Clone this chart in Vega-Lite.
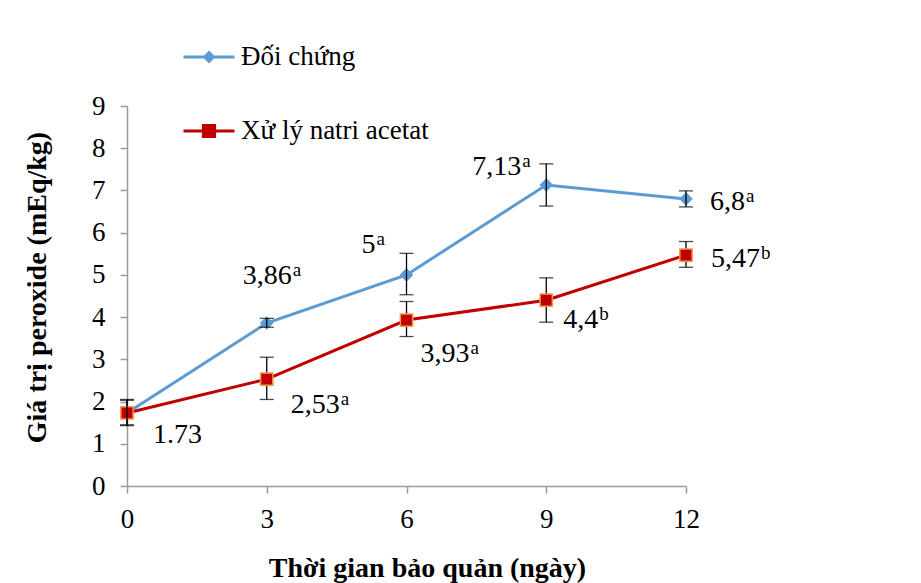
{
  "$schema": "https://vega.github.io/schema/vega-lite/v6.json",
  "width": 559,
  "height": 380,
  "autosize": {"type": "none"},
  "padding": {"left": 127, "top": 106, "right": 235, "bottom": 97},
  "background": "white",
  "config": {"view": {"stroke": null}, "font": "Liberation Serif"},
  "data": {
    "values": [
      {"id": "c0", "day": 0, "series": "Đối chứng", "value": 1.73, "lo": 1.43, "hi": 2.03, "label": "", "sup": ""},
      {"id": "c3", "day": 3, "series": "Đối chứng", "value": 3.86, "lo": 3.76, "hi": 3.97, "label": "3,86", "sup": "a"},
      {"id": "c6", "day": 6, "series": "Đối chứng", "value": 5.0, "lo": 4.53, "hi": 5.51, "label": "5", "sup": "a"},
      {"id": "c9", "day": 9, "series": "Đối chứng", "value": 7.13, "lo": 6.63, "hi": 7.63, "label": "7,13", "sup": "a"},
      {"id": "c12", "day": 12, "series": "Đối chứng", "value": 6.8, "lo": 6.61, "hi": 6.99, "label": "6,8", "sup": "a"},
      {"id": "t0", "day": 0, "series": "Xử lý natri acetat", "value": 1.73, "lo": 1.45, "hi": 2.05, "label": "1.73", "sup": ""},
      {"id": "t3", "day": 3, "series": "Xử lý natri acetat", "value": 2.53, "lo": 2.05, "hi": 3.05, "label": "2,53", "sup": "a"},
      {"id": "t6", "day": 6, "series": "Xử lý natri acetat", "value": 3.93, "lo": 3.54, "hi": 4.37, "label": "3,93", "sup": "a"},
      {"id": "t9", "day": 9, "series": "Xử lý natri acetat", "value": 4.4, "lo": 3.88, "hi": 4.93, "label": "4,4", "sup": "b"},
      {"id": "t12", "day": 12, "series": "Xử lý natri acetat", "value": 5.47, "lo": 5.18, "hi": 5.79, "label": "5,47", "sup": "b"}
    ]
  },
  "encoding": {
    "x": {
      "field": "day",
      "type": "quantitative",
      "scale": {"domain": [0, 12], "nice": false, "zero": false},
      "axis": {
        "values": [0, 3, 6, 9, 12],
        "grid": false,
        "title": "Thời gian bảo quản (ngày)",
        "titleFont": "Liberation Serif",
        "titleFontSize": 28,
        "titleFontWeight": "bold",
        "titleColor": "black",
        "titleX": 300,
        "titleY": 90,
        "titleBaseline": "alphabetic",
        "labelFont": "Liberation Serif",
        "labelFontSize": 27,
        "labelColor": "black",
        "labelPadding": 13,
        "labelFlush": false,
        "labelOverlap": false,
        "tickSize": 7,
        "tickWidth": 1.5,
        "tickColor": "#9a9a9a",
        "domainColor": "#9a9a9a",
        "domainWidth": 1.5
      }
    },
    "y": {
      "field": "value",
      "type": "quantitative",
      "scale": {"domain": [0, 9], "nice": false},
      "axis": {
        "values": [0, 1, 2, 3, 4, 5, 6, 7, 8, 9],
        "grid": false,
        "title": "Giá trị peroxide (mEq/kg)",
        "titleFont": "Liberation Serif",
        "titleFontSize": 28,
        "titleFontWeight": "bold",
        "titleColor": "black",
        "titleX": -90,
        "titleY": 181,
        "titleAngle": -90,
        "titleBaseline": "middle",
        "titleAlign": "center",
        "labelFont": "Liberation Serif",
        "labelFontSize": 27,
        "labelColor": "black",
        "labelPadding": 15,
        "labelFlush": false,
        "labelOverlap": false,
        "tickSize": 7,
        "tickWidth": 1.5,
        "tickColor": "#9a9a9a",
        "domainColor": "#9a9a9a",
        "domainWidth": 1.5
      }
    }
  },
  "layer": [
    {
      "mark": {"type": "line", "strokeWidth": 3},
      "encoding": {
        "color": {
          "field": "series",
          "type": "nominal",
          "scale": {"domain": ["Đối chứng", "Xử lý natri acetat"], "range": ["#5B9BD5", "#C00000"]},
          "legend": {
            "orient": "none",
            "legendX": 55,
            "legendY": -76,
            "title": null,
            "direction": "vertical",
            "padding": 0,
            "symbolType": "M-1,0L1,0",
            "symbolSize": 2601,
            "symbolStrokeWidth": 3,
            "labelFont": "Liberation Serif",
            "labelFontSize": 27,
            "labelColor": "black",
            "labelOffset": 5,
            "labelLimit": 0,
            "rowPadding": 34,
            "encode": {
              "symbols": {
                "update": {
                  "shape": {"signal": "datum.value === 'Đối chứng' ? 'M-1,0L1,0M-0.17,0L0,-0.17L0.17,0L0,0.17Z' : 'M-1,0L1,0M-0.22,-0.22L0.22,-0.22L0.22,0.22L-0.22,0.22Z'"},
                  "fill": {"scale": "color", "field": "value"},
                  "stroke": {"scale": "color", "field": "value"},
                  "strokeWidth": {"value": 3}
                }
              }
            }
          }
        }
      }
    },
    {
      "transform": [{"filter": "datum.series === 'Xử lý natri acetat'"}],
      "mark": {"type": "errorbar", "color": "black", "thickness": 1.3, "ticks": {"size": 14, "color": "black"}},
      "encoding": {
        "y": {"field": "lo", "type": "quantitative"},
        "y2": {"field": "hi"}
      }
    },
    {
      "transform": [{"filter": "datum.series === 'Đối chứng'"}],
      "mark": {"type": "point", "shape": "diamond", "filled": true, "fill": "#5B9BD5", "stroke": "#5B9BD5", "strokeWidth": 1, "opacity": 1, "size": 160},
      "encoding": {}
    },
    {
      "transform": [{"filter": "datum.series === 'Xử lý natri acetat'"}],
      "mark": {"type": "point", "shape": "square", "filled": true, "fill": "#C00000", "stroke": "#F79646", "strokeWidth": 1.5, "opacity": 1, "size": 150},
      "encoding": {}
    },
    {
      "transform": [{"filter": "datum.series === 'Đối chứng'"}],
      "mark": {"type": "errorbar", "color": "black", "thickness": 1.3, "ticks": {"size": 14, "color": "black"}},
      "encoding": {
        "y": {"field": "lo", "type": "quantitative"},
        "y2": {"field": "hi"}
      }
    },
    {
      "transform": [{"filter": "datum.label !== ''"}],
      "mark": {
        "type": "text",
        "font": "Liberation Serif",
        "fontSize": 28,
        "align": "right",
        "baseline": "alphabetic",
        "color": "black",
        "dx": {"expr": "{c3: 25, c6: -31, c9: -25, c12: 59, t0: 75, t3: 73, t6: 63, t9: 52, t12: 74}[datum.id]"},
        "dy": {"expr": "{c3: -39, c6: -22, c9: -10, c12: 11, t0: 30, t3: 34, t6: 42, t9: 28, t12: 12}[datum.id]"}
      },
      "encoding": {"text": {"field": "label"}}
    },
    {
      "transform": [{"filter": "datum.sup !== ''"}],
      "mark": {
        "type": "text",
        "font": "Liberation Serif",
        "fontSize": 19,
        "align": "left",
        "baseline": "alphabetic",
        "color": "black",
        "dx": {"expr": "1 + {c3: 25, c6: -31, c9: -25, c12: 59, t0: 75, t3: 73, t6: 63, t9: 52, t12: 74}[datum.id]"},
        "dy": {"expr": "-8 + {c3: -39, c6: -22, c9: -10, c12: 11, t0: 30, t3: 34, t6: 42, t9: 28, t12: 12}[datum.id]"}
      },
      "encoding": {"text": {"field": "sup"}}
    }
  ]
}
